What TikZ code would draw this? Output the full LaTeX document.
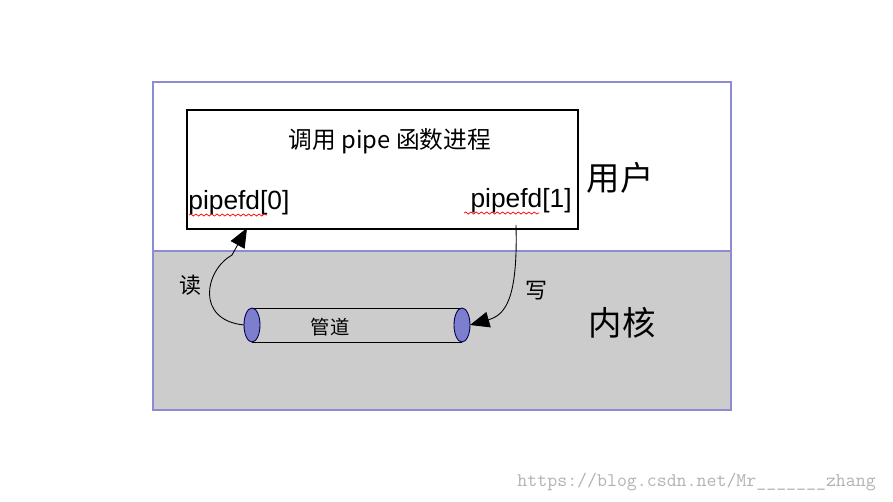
\documentclass[tikz,border=0pt]{standalone}
\usepackage{fontspec}
\setmainfont{Liberation Sans}
\newfontfamily\cjk{Noto Sans CJK SC}
\usetikzlibrary{arrows.meta,decorations.pathmorphing}

\tikzset{
  frameline/.style={draw=black!40!blue!45!white, line width=0.8pt},
  tube/.style={draw=blue!30!black, fill=blue!45!gray!70!white, line width=0.5pt},
  flow/.style={-{Triangle[length=11pt,width=9pt]}, line width=0.5pt},
  squiggle/.style={red, line width=0.4pt, decorate, decoration={snake, amplitude=0.6pt, segment length=3pt}}
}

\begin{document}
\begin{tikzpicture}[x=0.02cm, y=-0.02cm]
        \useasboundingbox (0,0) rectangle (893,501);
        % user and kernel regions
        \fill[white] (153,82) rectangle (731,251);
        \fill[black!20] (153,251) rectangle (731,410);
        \draw[frameline] (153,82) rectangle (731,410);
        \draw[frameline] (153,251) -- (731,251);
        \node (user) at (620,178) {\cjk\fontsize{19}{22}\selectfont 用户};
        \node (kernel) at (622,323) {\cjk\fontsize{19}{22}\selectfont 内核};
        % process box
        \draw[line width=1pt, fill=white] (187,110) rectangle (578,229);
        \node (proc) at (390,141) {\cjk\fontsize{13.5}{16}\selectfont 调用 pipe 函数进程};
        \node[anchor=west, inner sep=0pt, font=\fontsize{15}{18}\selectfont] (fd0) at (188,203) {pipefd[0]};
        \node[anchor=east, inner sep=0pt, font=\fontsize{15}{18}\selectfont] (fd1) at (572,201) {pipefd[1]};
        \draw[squiggle] (189,215) -- (267,215);
        \draw[squiggle] (464,213) -- (539,213);
        % pipe
        \draw (252,308) -- (462,308);
        \draw (252,342) -- (462,342);
        \draw[tube] (252,325) ellipse (8 and 17);
        \draw[tube] (462,325) ellipse (8 and 17);
        \coordinate (pl) at (244,325);
        \coordinate (pr) at (470,325);
        \coordinate (rd) at (247,228);
        \coordinate (wr) at (516,225);
        \node (pipe) at (330,327) {\cjk\fontsize{11}{13}\selectfont 管道};
        % read and write
        \draw[flow] (pl) .. controls (195,320) and (205,270) .. (232,255) -- (rd);
        \draw[flow] (wr) .. controls (518,300) and (505,315) .. (pr);
        \node (read) at (190,285) {\cjk\fontsize{12.5}{15}\selectfont 读};
        \node (write) at (536,291) {\cjk\fontsize{12.5}{15}\selectfont 写};
        \node[anchor=east, text=black!30, font=\ttfamily\fontsize{11}{13}\selectfont] (mark) at (882,482) {https://blog.csdn.net/Mr\_\_\_\_\_\_\_zhang};
    \end{tikzpicture}
\end{document}
